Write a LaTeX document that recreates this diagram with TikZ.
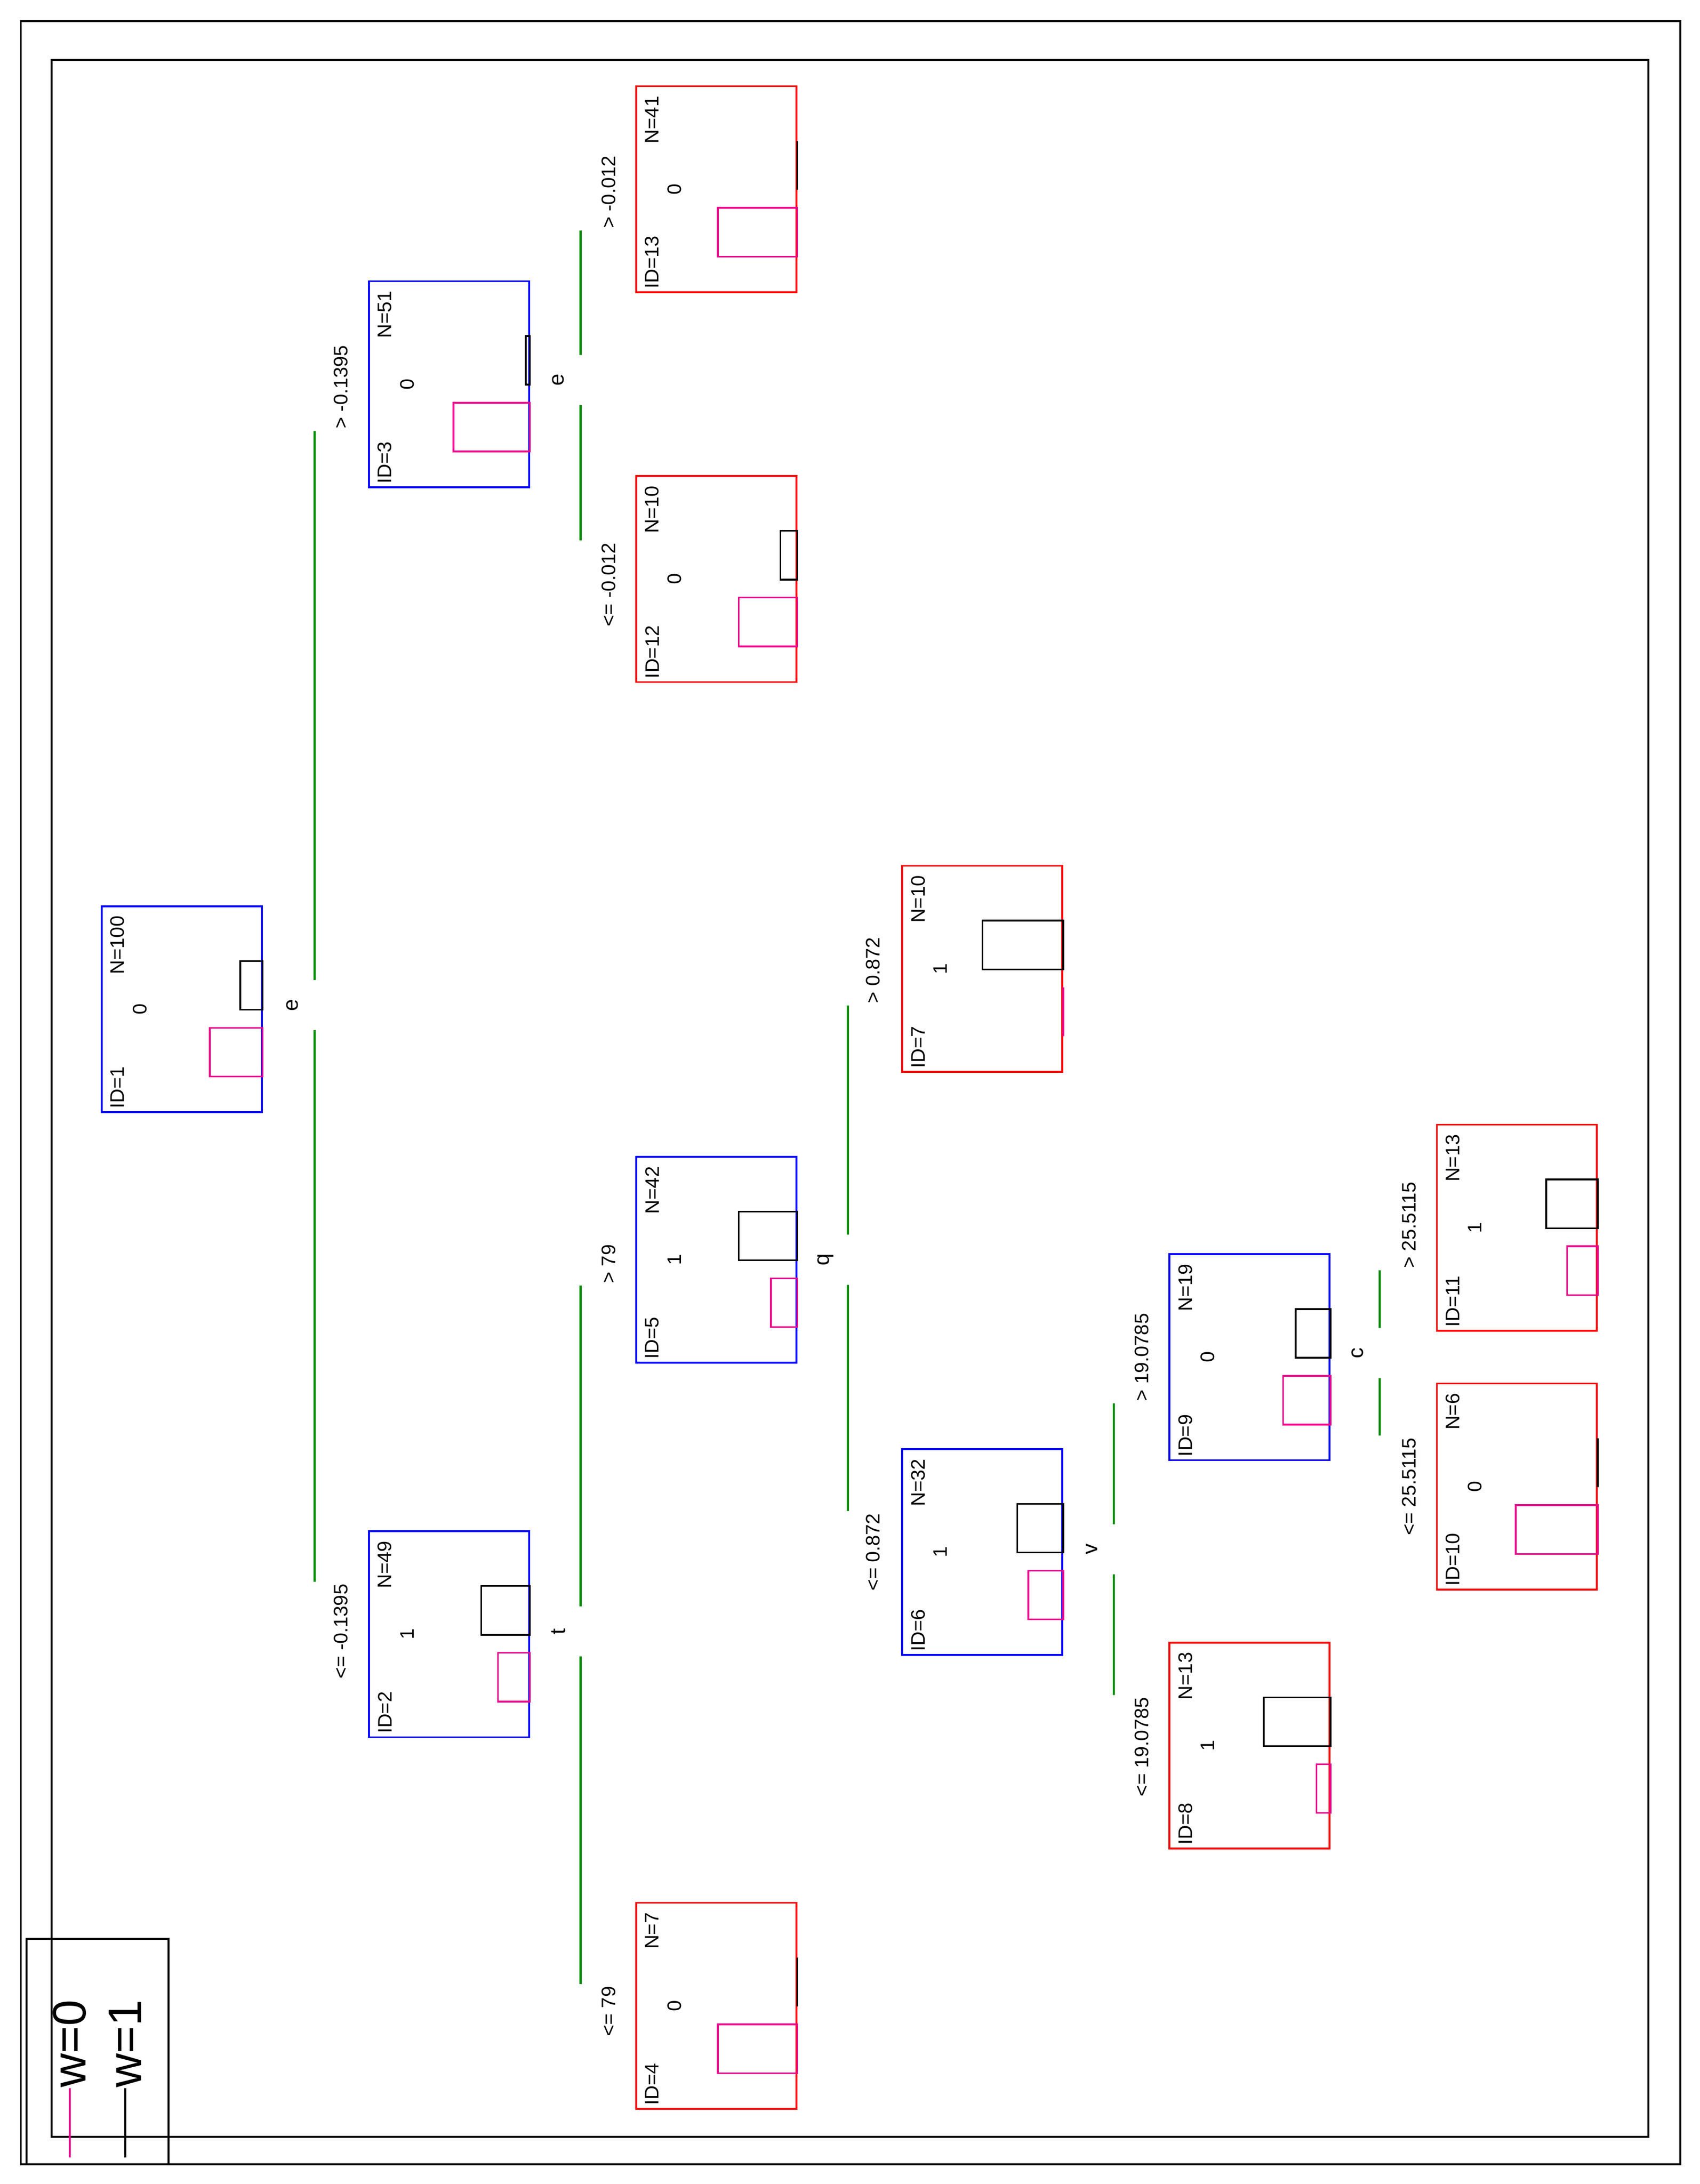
\documentclass[tikz,border=0pt]{standalone}
\usepackage{fontspec}
\setmainfont{Liberation Sans}
\begin{document}
\definecolor{splitgreen}{RGB}{0,140,0}
\tikzset{
  box/.style={draw=#1,line width=0.9pt,minimum width=28.75mm,minimum height=37mm,inner sep=0pt},
  txt/.style={rotate=90,inner sep=1pt,font=\fontsize{10}{12}\selectfont},
  split/.style={rotate=90,inner sep=1pt,font=\fontsize{11}{12}\selectfont},
  edge/.style={draw=splitgreen,line width=1.1pt},
  w0bar/.style={draw=magenta,line width=0.9pt},
  w1bar/.style={draw=black,line width=0.9pt}
}
% box contents: name, id, class, N, magenta width, black width
\newcommand\treebox[6]{
  \node[txt,anchor=west,fill=white] at ([xshift=3mm,yshift=0.4mm]#1.south west) {ID=#2};
  \node[txt,anchor=east] at ([xshift=3mm,yshift=-1.5mm]#1.north west) {N=#4};
  \node[txt] at ([xshift=7mm]#1.west) {#3};
  \draw[w0bar] ([yshift=-22mm]#1.north east) rectangle ([xshift=-#5*0.25mm,yshift=-30.75mm]#1.north east);
  \draw[w1bar] ([yshift=-10mm]#1.north east) rectangle ([xshift=-#6*0.25mm,yshift=-18.75mm]#1.north east);
}
\begin{tikzpicture}[x=0.25mm,y=-0.25mm]
  \useasboundingbox (0,0) rectangle (1221,1569);
  \draw[line width=1pt] (15,15) rectangle (1207,1555);
  \draw[line width=1pt] (37,43) rectangle (1184,1535);

  % boxes
  \node[box=blue] (n1) at (130.5,725) {};
  \node[box=blue] (n3) at (322.5,276) {};
  \node[box=blue] (n2) at (322.5,1174) {};
  \node[box=red] (n13) at (514.5,136) {};
  \node[box=red] (n12) at (514.5,416) {};
  \node[box=blue] (n5) at (514.5,905) {};
  \node[box=red] (n4) at (514.5,1441) {};
  \node[box=red] (n7) at (705.5,696) {};
  \node[box=blue] (n6) at (705.5,1115) {};
  \node[box=blue] (n9) at (897.5,975) {};
  \node[box=red] (n8) at (897.5,1254) {};
  \node[box=red] (n11) at (1089.5,882) {};
  \node[box=red] (n10) at (1089.5,1068) {};

  \treebox{n1}{1}{0}{100}{38}{16}
  \treebox{n3}{3}{0}{51}{55}{3}
  \treebox{n2}{2}{1}{49}{23}{35}
  \treebox{n13}{13}{0}{41}{57}{0}
  \treebox{n12}{12}{0}{10}{42}{12}
  \treebox{n5}{5}{1}{42}{19}{42}
  \treebox{n4}{4}{0}{7}{57}{0}
  \treebox{n7}{7}{1}{10}{0}{58}
  \treebox{n6}{6}{1}{32}{25}{33}
  \treebox{n9}{9}{0}{19}{34}{25}
  \treebox{n8}{8}{1}{13}{10}{48}
  \treebox{n11}{11}{1}{13}{22}{37}
  \treebox{n10}{10}{0}{6}{59}{0}

  % split variables
  \node[split] (s1) at (210,722) {e};
  \node[split] (s3) at (401,273) {e};
  \node[split] (s2) at (401,1172) {t};
  \node[split] (s5) at (593,905) {q};
  \node[split] (s6) at (784,1113) {v};
  \node[split] (s9) at (975,972) {c};

  % branch labels
  \node[txt] (l3) at (245,278) {> -0.1395};
  \node[txt] (l2) at (245,1172) {<= -0.1395};
  \node[txt] (l13) at (437,138) {> -0.012};
  \node[txt] (l12) at (437,420) {<= -0.012};
  \node[txt] (l5) at (437,908) {> 79};
  \node[txt] (l4) at (437,1445) {<= 79};
  \node[txt] (l7) at (627,697) {> 0.872};
  \node[txt] (l6) at (627,1115) {<= 0.872};
  \node[txt] (l9) at (820,975) {> 19.0785};
  \node[txt] (l8) at (820,1255) {<= 19.0785};
  \node[txt] (l11) at (1012,880) {> 25.5115};
  \node[txt] (l10) at (1012,1068) {<= 25.5115};

  % branches
  \foreach \s/\up/\dn in {s1/l3/l2,s3/l13/l12,s2/l5/l4,s5/l7/l6,s6/l9/l8,s9/l11/l10}{
    \draw[edge] ([shift={(16,-18)}]\s.center) -- ([xshift=4mm]\s.center |- \up.west);
    \draw[edge] ([shift={(16,18)}]\s.center) -- ([xshift=4mm]\s.center |- \dn.east);
  }

  % legend
  \draw[line width=1pt] (19,1393) rectangle (121,1555);
  \coordinate (k0) at (50,1550);
  \coordinate (k1) at (90,1550);
  \node[rotate=90,anchor=west,inner sep=0pt,font=\fontsize{24}{26}\selectfont] (t0) at (50,1500) {w=0};
  \node[rotate=90,anchor=west,inner sep=0pt,font=\fontsize{24}{26}\selectfont] (t1) at (90,1500) {w=1};
  \draw[magenta,line width=1pt] (k0) -- (k0 |- t0.west);
  \draw[black,line width=1pt] (k1) -- (k1 |- t1.west);
\end{tikzpicture}
\end{document}
